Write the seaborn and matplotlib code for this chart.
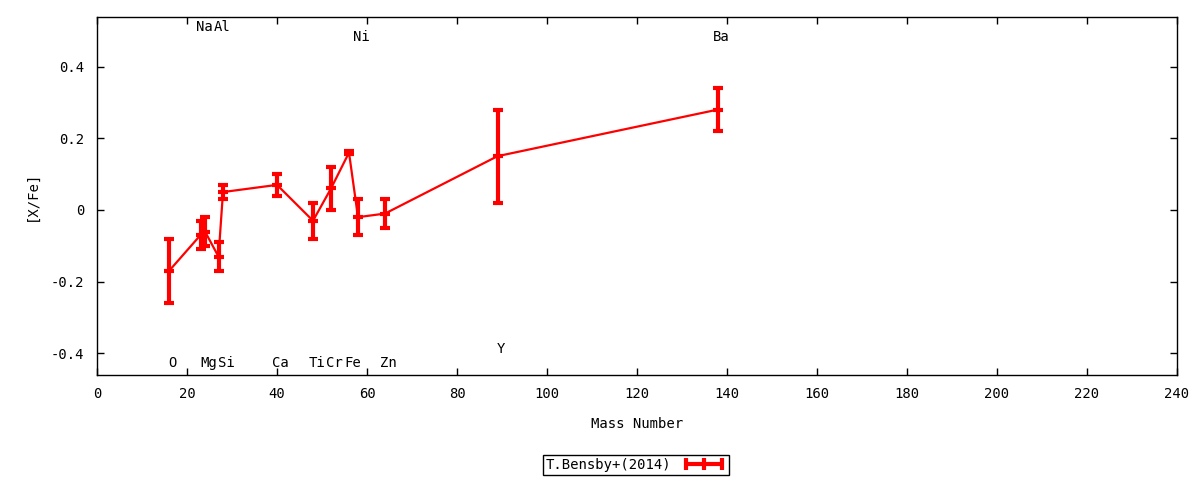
import matplotlib
matplotlib.use("Agg")
import matplotlib.pyplot as plt
from matplotlib.lines import Line2D
import seaborn as sns

# Bensby+(2014) abundance pattern vs mass number
elements = ["O", "Na", "Mg", "Al", "Si", "Ca", "Ti", "Cr", "Fe", "Ni", "Zn", "Y", "Ba"]
mass     = [16, 23, 24, 27, 28, 40, 48, 52, 56, 58, 64, 89, 138]
xfe      = [-0.17, -0.07, -0.06, -0.13, 0.05, 0.07, -0.03, 0.06, 0.16, -0.02, -0.01, 0.15, 0.28]
xfe_err  = [0.09, 0.04, 0.04, 0.04, 0.02, 0.03, 0.05, 0.06, 0.005, 0.05, 0.04, 0.13, 0.06]

# element names sit either above or below the curve
label_y  = [-0.427, 0.51, -0.427, 0.51, -0.427, -0.427, -0.427, -0.427, -0.427, 0.482, -0.427, -0.387, 0.482]

xticks       = list(range(0, 241, 20))
yticks       = [-0.4, -0.2, 0.0, 0.2, 0.4]
ytick_labels = ["-0.4", "-0.2", "0", "0.2", "0.4"]

RED = "#ff0000"

sns.set_style("ticks")
plt.rcParams["font.family"] = ["DejaVu Sans Mono", "DejaVu Sans"]
plt.rcParams["font.size"] = 10
plt.rcParams["text.color"] = "black"
plt.rcParams["axes.labelcolor"] = "black"

fig = plt.figure(figsize=(12, 4.8), dpi=100)
ax = fig.add_axes([97 / 1200, 1 - 375 / 480, 1080 / 1200, 358 / 480])

sns.lineplot(x=mass, y=xfe, color=RED, linewidth=1.6, ax=ax, legend=False)
ax.errorbar(mass, xfe, yerr=xfe_err, fmt="_", color=RED, ecolor=RED,
            markersize=7, mew=3, elinewidth=3, capsize=3.5, capthick=3)

for el, m, ly in zip(elements, mass, label_y):
    ax.text(m + 0.8, ly, el, ha="center", va="center", fontsize=10, color="black")

ax.set_xlim(0, 240)
ax.set_ylim(-0.46, 0.538)
ax.set_xticks(xticks)
ax.set_yticks(yticks)
ax.set_yticklabels(ytick_labels)
ax.tick_params(direction="in", length=5, width=1, top=True, right=True,
               labelsize=10, pad=9, colors="black")
for sp in ax.spines.values():
    sp.set_visible(True)
    sp.set_color("black")
    sp.set_linewidth(1)

ax.set_xlabel("Mass Number", fontsize=10)
ax.xaxis.set_label_coords(0.5, -0.117)
ax.set_ylabel("[X/Fe]", fontsize=10)
ax.yaxis.set_label_coords(-0.054, 0.5)

handle = Line2D([], [], color=RED, lw=3, marker="|", markersize=8, mew=3)
leg = fig.legend([handle], ["T.Bensby+(2014)"], loc="center",
                 bbox_to_anchor=(0.53, 1 - 465 / 480), bbox_transform=fig.transFigure,
                 numpoints=3, markerfirst=False, handlelength=3.2, fancybox=False,
                 framealpha=1, edgecolor="black", fontsize=10, borderpad=0.2,
                 handletextpad=0.8, borderaxespad=0)
leg.get_frame().set_linewidth(1)

fig.savefig("out.png", dpi=100)
